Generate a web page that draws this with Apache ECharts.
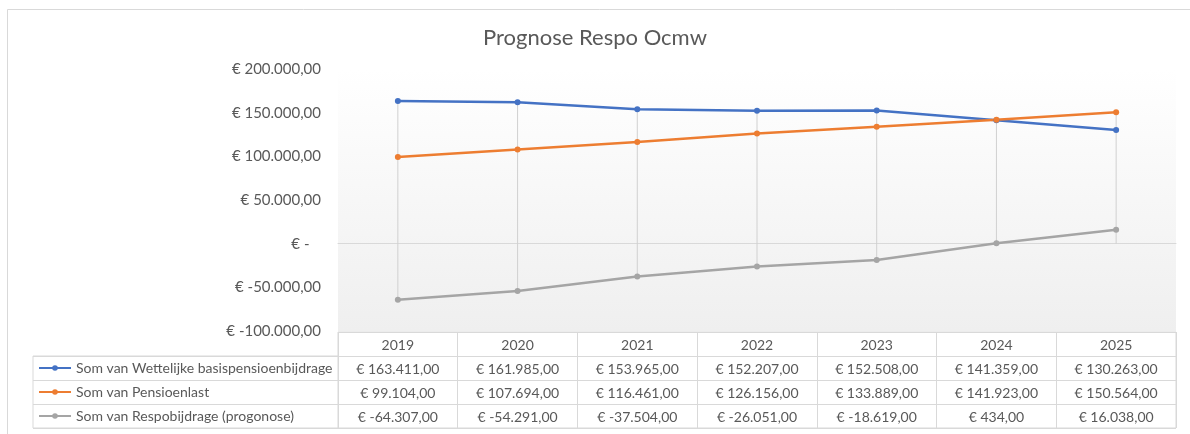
<!DOCTYPE html>
<html><head><meta charset="utf-8">
<script src="https://cdn.jsdelivr.net/npm/echarts@6/dist/echarts.min.js"></script>
<style>html,body{margin:0;padding:0;background:#fff}#c{width:1190px;height:434px}</style>
</head><body><div id="c"></div>
<script>
// ---- data ----
const title = 'Prognose Respo Ocmw';
const years = ['2019', '2020', '2021', '2022', '2023', '2024', '2025'];
const seriesNames = ['Som van Wettelijke basispensioenbijdrage', 'Som van Pensioenlast', 'Som van Respobijdrage (progonose)'];
const wettelijke = [163411, 161985, 153965, 152207, 152508, 141359, 130263];
const pensioenlast = [99104, 107694, 116461, 126156, 133889, 141923, 150564];
const respo = [-64307, -54291, -37504, -26051, -18619, 434, 16038];
const yMin = -100000, yMax = 200000, yStep = 50000;

// ---- style ----
const FONT = 'Lato';
const TXT = '#595959';
const GRIDC = '#d9d9d9';
const colors = ['#4472C4', '#ED7D31', '#A5A5A5'];
const allSeries = [wettelijke, pensioenlast, respo];

function fmt(v, zeroDash) {
  if (v === 0 && zeroDash) return '€ -   ';
  const neg = v < 0, a = Math.abs(v);
  const intPart = Math.floor(a).toString().replace(/\B(?=(\d{3})+(?!\d))/g, '.');
  const dec = Math.round((a % 1) * 100).toString().padStart(2, '0');
  return '€ ' + (neg ? '-' : '') + intPart + ',' + dec;
}

const tableRows = [years].concat(allSeries.map(s => s.map(v => fmt(v, false))));
const tableCells = [];
tableRows.forEach((row, r) => row.forEach((_, c) => tableCells.push([c, r])));

const dropData = years.map((_, i) => {
  const vals = allSeries.map(s => s[i]);
  return [i, Math.max(0, ...vals), Math.min(0, ...vals)];
});

const chart = echarts.init(document.getElementById('c'), null, { renderer: 'canvas' });
chart.setOption({
  animation: false,
  backgroundColor: '#fff',
  textStyle: { fontFamily: FONT },
  title: {
    text: title, left: 'center', top: 22,
    textStyle: { fontFamily: FONT, fontSize: 22, fontWeight: 'normal', color: TXT }
  },
  graphic: [{
    type: 'rect', left: 5, top: 7, shape: { width: 1400, height: 600 },
    style: { fill: 'none', stroke: GRIDC, lineWidth: 1 }, silent: true, z: -10
  }],
  legend: {
    data: seriesNames, orient: 'vertical', left: 38, top: 360, padding: 0,
    itemWidth: 32, itemHeight: 7, itemGap: 8,
    textStyle: { fontFamily: FONT, fontSize: 14, color: TXT, lineHeight: 16 },
    selectedMode: false
  },
  grid: [
    { left: 338, right: 14, top: 69, bottom: 103, show: true, borderWidth: 0,
      backgroundColor: new echarts.graphic.LinearGradient(0, 0, 0, 1, [
        { offset: 0, color: '#ffffff' }, { offset: 1, color: '#efefef' }]) },
    { left: 338, right: 14, top: 332, bottom: 6, show: true, borderColor: GRIDC, borderWidth: 1, backgroundColor: '#fff' },
    { left: 33, right: 852, top: 356, bottom: 6, show: true, borderColor: GRIDC, borderWidth: 1, backgroundColor: '#fff' }
  ],
  xAxis: [
    { gridIndex: 0, type: 'category', data: years, boundaryGap: true,
      axisLine: { onZero: true, lineStyle: { color: GRIDC, width: 1 } },
      axisTick: { show: false }, axisLabel: { show: false }, splitLine: { show: false } },
    { gridIndex: 1, type: 'category', data: years, boundaryGap: true,
      axisLine: { show: false }, axisTick: { show: false }, axisLabel: { show: false },
      splitLine: { show: true, interval: 0, lineStyle: { color: GRIDC, width: 1 } } },
    { gridIndex: 2, type: 'value', min: 0, max: 1, show: false }
  ],
  yAxis: [
    { gridIndex: 0, type: 'value', min: yMin, max: yMax, interval: yStep,
      axisLine: { show: false }, axisTick: { show: false }, splitLine: { show: false },
      axisLabel: { color: TXT, fontSize: 15, fontFamily: FONT, margin: 17, formatter: v => fmt(v, true) } },
    { gridIndex: 1, type: 'category', data: ['h', 'r1', 'r2', 'r3'], inverse: true, boundaryGap: true,
      axisLine: { show: false }, axisTick: { show: false }, axisLabel: { show: false },
      splitLine: { show: true, interval: 0, lineStyle: { color: GRIDC, width: 1 } } },
    { gridIndex: 2, type: 'category', data: ['r1', 'r2', 'r3'], inverse: true, boundaryGap: true,
      axisLine: { show: false }, axisTick: { show: false }, axisLabel: { show: false },
      splitLine: { show: true, interval: 0, lineStyle: { color: GRIDC, width: 1 } } }
  ],
  series: [
    { type: 'custom', name: 'drop', xAxisIndex: 0, yAxisIndex: 0, data: dropData, z: 1, silent: true,
      encode: { x: 0, y: [1, 2] },
      renderItem: (params, api) => {
        const a = api.coord([api.value(0), api.value(1)]);
        const b = api.coord([api.value(0), api.value(2)]);
        return { type: 'line', shape: { x1: a[0], y1: a[1], x2: b[0], y2: b[1] },
          style: { stroke: '#d0d0d0', lineWidth: 1 } };
      } },
    ...allSeries.map((s, k) => ({
      type: 'line', name: seriesNames[k], data: s, xAxisIndex: 0, yAxisIndex: 0, z: 3,
      symbol: 'circle', symbolSize: 6, showSymbol: true,
      itemStyle: { color: colors[k] }, lineStyle: { color: colors[k], width: 2.5 }
    })),
    { type: 'custom', name: 'table', xAxisIndex: 1, yAxisIndex: 1, data: tableCells, silent: true,
      encode: { x: 0, y: 1 },
      renderItem: (params, api) => {
        const c = api.value(0), r = api.value(1);
        const p = api.coord([c, r]);
        return { type: 'text', x: p[0], y: p[1] + 1,
          style: { text: tableRows[r][c], textAlign: 'center', textVerticalAlign: 'middle',
            fill: TXT, font: '14px ' + FONT } };
      } }
  ]
});
</script></body></html>
